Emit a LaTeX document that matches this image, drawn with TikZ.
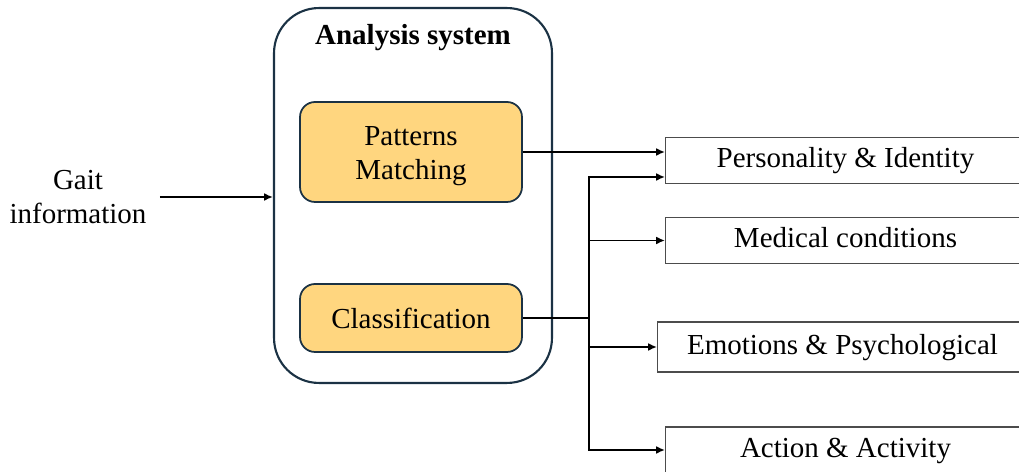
\documentclass[tikz,border=0pt]{standalone}
\usepackage{fontspec}
\setmainfont{Liberation Serif}
\usepackage{tikz}
\usetikzlibrary{arrows.meta,positioning}
\definecolor{boxfill}{HTML}{FFD67F}
\definecolor{boxline}{HTML}{1B3244}
\newcommand{\txt}{\fontsize{16.5}{19}\selectfont}
\tikzset{
	sysbox/.style={draw=boxline, line width=1.2pt, rounded corners=0.9cm, minimum width=5.56cm, minimum height=7.5cm},
	stagebox/.style={draw=boxline, fill=boxfill, line width=1pt, rounded corners=0.3cm, minimum width=4.44cm, align=center},
	outbox/.style={draw=black!70, line width=0.6pt, anchor=west, minimum width=7.2cm, minimum height=0.92cm, inner ysep=0pt, text height=1.1em, text depth=0.25em},
	arr/.style={-{Latex[length=5pt,width=4.5pt]}, line width=1pt},
	conn/.style={line width=1pt}
}

\begin{document}
\begin{tikzpicture}[x=0.02cm, y=-0.02cm, font=\txt]
		\clip (0,0) rectangle (1019,472);
		% analysis system
		\node[sysbox] (sys) at (413,195.5) {};
		\node[font=\txt\bfseries] (title) at (413,38) {Analysis system};
		\node[stagebox, minimum height=2cm] (pm) at (411,152) {\rule{0pt}{0.95em}Patterns\\Matching};
		\node[stagebox, minimum height=1.36cm] (cls) at (411,318) {Classification};
		% input
		\node[align=center, inner xsep=0.26cm] (gait) at (78,197) {Gait\\information};
		% outputs
		\node[outbox] (pers) at (665,160.5) {Personality \& Identity};
		\node[outbox] (med) at (665,240.5) {Medical conditions};
		\node[outbox, minimum width=7.4cm, minimum height=1cm] (emo) at (657,347) {Emotions \& Psychological};
		\node[outbox] (act) at (665,450) {Action \& Activity};
		\coordinate[right=1.32cm of cls.east] (split);
		\draw[arr] (gait.east) -- (gait.east -| sys.west);
		\draw[arr] (pm.east) -- (pm.east -| pers.west);
		\draw[conn] (cls.east) -- (split);
		\draw[arr] (split) |- ([yshift=-0.33cm]pers.west);
		\draw[arr] (split) |- (med.west);
		\draw[arr] (split) |- (emo.west);
		\draw[arr] (split) |- (act.west);
	\end{tikzpicture}
\end{document}
